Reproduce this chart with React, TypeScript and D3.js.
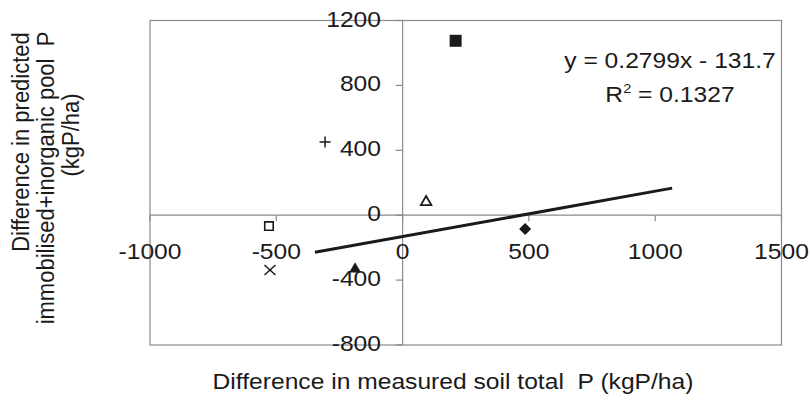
import React from "react";
import * as d3 from "d3";

const pointX = [210, -307, 93, -529, -525, -188, 485];
const pointY = [1075, 451, 81, -67, -338, -332, -85];
const pointShape = ["filledSquare", "plus", "openTriangle", "openSquare", "cross", "filledTriangle", "filledDiamond"];
const xTicks = [-1000, -500, 0, 500, 1000, 1500];
const yTicks = [-800, -400, 0, 400, 800, 1200];
const trendSlope = 0.2799;
const trendIntercept = -131.7;
const trendRange = [-347, 1067];
const equationText = "y = 0.2799x - 131.7";
const r2Value = "0.1327";
const xTitle = "Difference in measured soil total\u00a0\u00a0P (kgP/ha)";
const yTitleLines = ["Difference in predicted", "immobilised+inorganic pool\u00a0\u00a0P", "(kgP/ha)"];

const W = 810;
const H = 409;
const L = 150, R = 781.5, T = 20.5, B = 345;
const FONT = "'Liberation Sans', Arial, sans-serif";
const FS = 22;
const SX = 1.12;
const GRAY = "#8a8a8a";
const INK = "#1a1a1a";

function Txt({ x, y, anchor = "middle", rotate = 0, children, size = FS }: any) {
  const rot = rotate ? ` rotate(${rotate})` : "";
  return (
    <text
      transform={`translate(${x},${y}) scale(${SX},1)${rot}`}
      textAnchor={anchor}
      fontFamily={FONT}
      fontSize={size}
      fill={INK}
    >
      {children}
    </text>
  );
}

function Marker({ shape, cx, cy }: { shape: string; cx: number; cy: number }) {
  const t = `translate(${cx},${cy})`;
  switch (shape) {
    case "filledSquare":
      return <path transform={t} d={d3.symbol(d3.symbolSquare, 144)()!} fill={INK} />;
    case "openSquare":
      return <path transform={t} d={d3.symbol(d3.symbolSquare, 72)()!} fill="white" stroke={INK} strokeWidth={1.6} />;
    case "openTriangle":
      return <path transform={t} d={d3.symbol(d3.symbolTriangle, 48)()!} fill="white" stroke={INK} strokeWidth={1.8} />;
    case "filledTriangle":
      return <path transform={t} d={d3.symbol(d3.symbolTriangle, 62)()!} fill={INK} />;
    case "filledDiamond":
      return <path transform={`${t} rotate(45)`} d={d3.symbol(d3.symbolSquare, 72)()!} fill={INK} />;
    case "plus":
      return (
        <g transform={t} stroke={INK} strokeWidth={1.5}>
          <line x1={-5.5} x2={5.5} y1={0} y2={0} />
          <line x1={0} x2={0} y1={-5.5} y2={5.5} />
        </g>
      );
    case "cross":
      return (
        <g transform={t} stroke={INK} strokeWidth={1.5}>
          <line x1={-5.5} x2={5.5} y1={-5} y2={5} />
          <line x1={-5.5} x2={5.5} y1={5} y2={-5} />
        </g>
      );
    default:
      return null;
  }
}

export default function App() {
  const x = d3.scaleLinear().domain([-1000, 1500]).range([L, R]);
  const y = d3.scaleLinear().domain([-800, 1200]).range([B, T]);
  const x0 = x(0);
  const y0 = y(0);
  const trendLine = d3
    .line<number>()
    .x((v) => x(v))
    .y((v) => y(trendSlope * v + trendIntercept));

  return (
    <svg
      width={W}
      height={H}
      style={{ position: "absolute", left: 0, top: 0, background: "white" }}
    >
      <rect x={0} y={0} width={W} height={H} fill="white" />
      <rect x={L} y={T} width={R - L} height={B - T} fill="none" stroke={GRAY} strokeWidth={1.2} />
      <line x1={L} x2={R} y1={y0} y2={y0} stroke={GRAY} strokeWidth={1.2} />
      <line x1={x0} x2={x0} y1={T} y2={B} stroke={GRAY} strokeWidth={1.2} />
      {xTicks.map((t) => (
        <g key={"xt" + t}>
          <line x1={x(t)} x2={x(t)} y1={y0} y2={y0 + 6} stroke={GRAY} strokeWidth={1.2} />
          <Txt x={x(t)} y={y0 + 44}>{d3.format("d")(t).replace("−", "-")}</Txt>
        </g>
      ))}
      {yTicks.map((t) => (
        <g key={"yt" + t}>
          <line x1={x0 - 7} x2={x0} y1={y(t)} y2={y(t)} stroke={GRAY} strokeWidth={1.2} />
          <Txt x={381} y={y(t) + 6} anchor="end">{d3.format("d")(t).replace("−", "-")}</Txt>
        </g>
      ))}
      <path d={trendLine(trendRange)!} fill="none" stroke={INK} strokeWidth={3} />
      {pointX.map((v, i) => (
        <Marker key={"p" + i} shape={pointShape[i]} cx={x(v)} cy={y(pointY[i])} />
      ))}
      <Txt x={670} y={68}>{equationText}</Txt>
      <text
        transform={`translate(670,102) scale(${SX},1)`}
        textAnchor="middle"
        fontFamily={FONT}
        fontSize={FS}
        fill={INK}
      >
        R<tspan fontSize={13} dy={-9}>2</tspan>
        <tspan dy={9}> = {r2Value}</tspan>
      </text>
      <Txt x={453} y={389}>{xTitle}</Txt>
      <Txt x={29} y={142} rotate={-90}>{yTitleLines[0]}</Txt>
      <Txt x={54} y={178} rotate={-90}>{yTitleLines[1]}</Txt>
      <Txt x={79} y={135} rotate={-90}>{yTitleLines[2]}</Txt>
    </svg>
  );
}
